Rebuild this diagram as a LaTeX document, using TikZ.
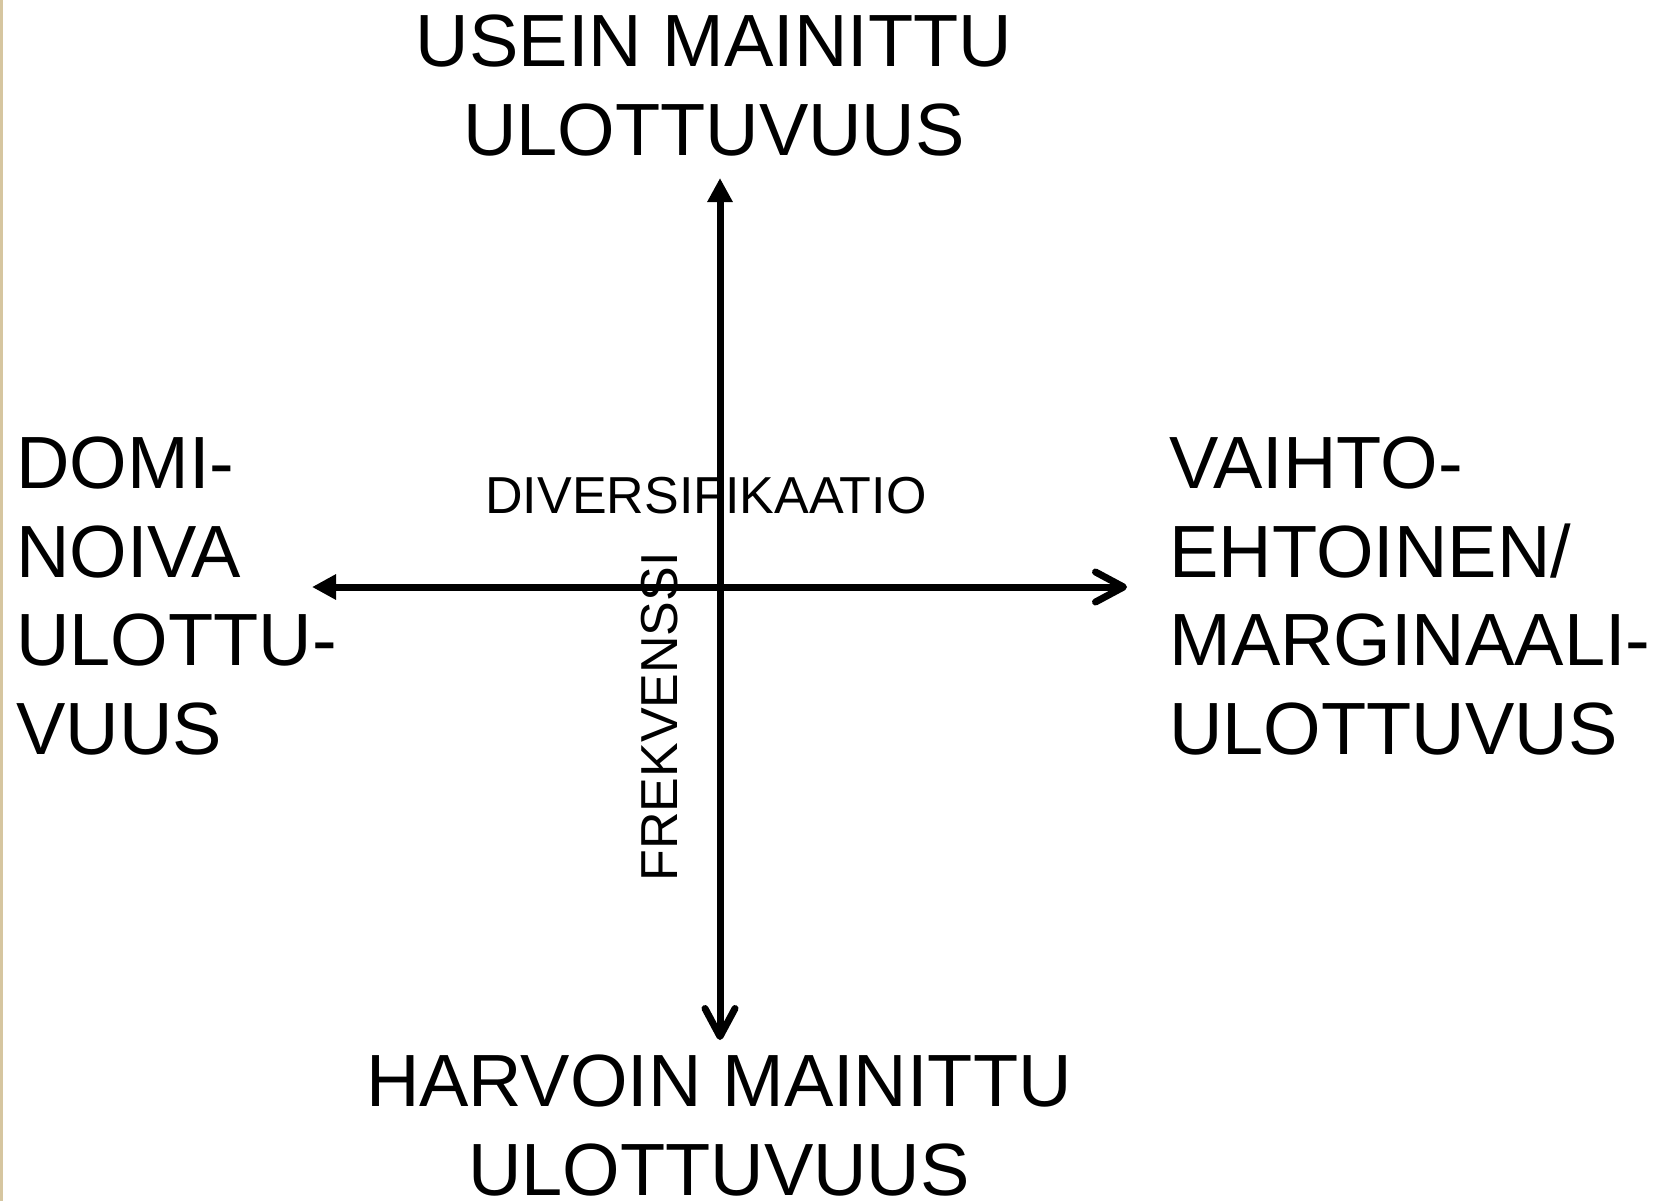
\documentclass[tikz,border=0pt]{standalone}
\usepackage{fontspec}
\setmainfont{Liberation Sans}
\usetikzlibrary{arrows.meta}
\definecolor{edgetan}{RGB}{214,198,160}
\tikzset{
  biglabel/.style={inner sep=0pt, font=\fontsize{37}{44.25}\selectfont},
  axislabel/.style={inner sep=0pt, font=\fontsize{26}{30}\selectfont},
  axis/.style={line width=3.5pt},
  solidtip/.tip={Triangle[length=12pt,width=12pt]},
  barbtip/.tip={Straight Barb[length=14pt,width=15pt,line cap=round,line join=round]}
}
\begin{document}
\begin{tikzpicture}[x=0.5pt,y=-0.5pt]
  \useasboundingbox[fill=white] (0,0) rectangle (1666,1201);
  \fill[edgetan] (0,0) rectangle (3,1201);

  % axis end points and crossing
  \coordinate (c) at (720,587);
  \coordinate (top) at (720,178);
  \coordinate (bottom) at (720,1040);
  \coordinate (left) at (312,587);
  \coordinate (right) at (1127,587);

  % axes
  \draw[axis, solidtip-barbtip] (left) -- (right);
  \draw[axis, solidtip-barbtip] (top) -- (bottom);

  % pole labels (base anchor = baseline of the last line)
  \node[biglabel, align=center, anchor=base] (usein) at (714,155)
    {USEIN MAINITTU\\ULOTTUVUUS};
  \node[biglabel, align=center, anchor=base] (harvoin) at (719,1195)
    {HARVOIN MAINITTU\\ULOTTUVUUS};
  \node[biglabel, align=left, anchor=base west] (dominoiva) at (16,754)
    {DOMI-\\NOIVA\\ULOTTU-\\VUUS};
  \node[biglabel, align=left, anchor=base west] (vaihto) at (1169,754)
    {VAIHTO-\\EHTOINEN/\\MARGINAALI-\\ULOTTUVUS};

  % axis names
  \node[axislabel, anchor=base west] (divers) at (485,513) {DIVERSIFIKAATIO};
  \node[axislabel, anchor=base west, rotate=90] (frekv) at (677,882) {FREKVENSSI};
\end{tikzpicture}
\end{document}
